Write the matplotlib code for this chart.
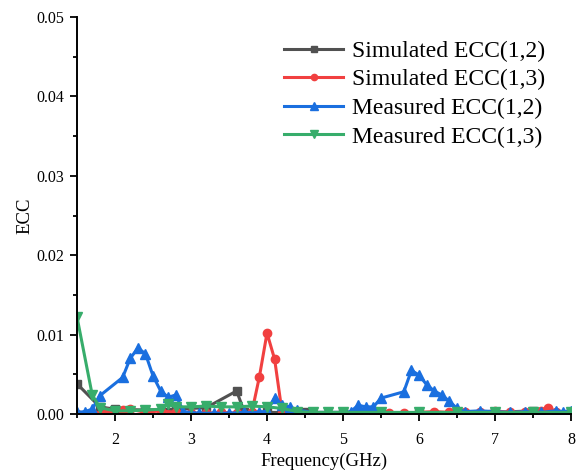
import numpy as np
import matplotlib.pyplot as plt
from matplotlib.ticker import MultipleLocator, FormatStrFormatter

# simulated ECC(1,2)
sim12_x = [1.5, 1.8, 2.0, 2.4, 2.8, 3.2, 3.6, 3.7, 4.0, 4.5, 5.0, 5.5, 6.0, 6.5, 7.0, 7.5, 8.0]
sim12_y = [0.0038, 0.0009, 0.0006, 0.0005, 0.0006, 0.0008, 0.0029, 0.0003, 0.0002, 0.0002,
           0.0002, 0.0001, 0.0001, 0.0002, 0.0002, 0.0004, 0.0002]

# simulated ECC(1,3)
sim13_x = [1.5, 1.7, 1.9, 2.1, 2.2, 2.4, 2.6, 2.8, 3.0, 3.2, 3.4, 3.6, 3.8, 3.9, 4.0, 4.1, 4.2,
           4.4, 4.6, 4.8, 5.0, 5.2, 5.4, 5.6, 5.8, 6.0, 6.2, 6.4, 6.6, 6.8, 7.0, 7.2, 7.4, 7.6,
           7.7, 7.8, 8.0]
sim13_y = [0.0000, 0.0001, 0.0003, 0.0005, 0.0006, 0.0002, 0.0004, 0.0002, 0.0001, 0.0001,
           0.0002, 0.0001, 0.0002, 0.0047, 0.0102, 0.0069, 0.0001, 0.0001, 0.0002, 0.0001,
           0.0001, 0.0001, 0.0002, 0.0001, 0.0001, 0.0002, 0.0003, 0.0002, 0.0003, 0.0002,
           0.0004, 0.0002, 0.0003, 0.0004, 0.0008, 0.0003, 0.0002]

# measured ECC(1,2)
mea12_x = [1.5, 1.6, 1.7, 1.8, 2.1, 2.2, 2.3, 2.4, 2.5, 2.6, 2.7, 2.8, 2.9, 3.1, 3.3, 3.5, 3.7,
           3.9, 4.0, 4.1, 4.2, 4.3, 4.4, 4.6, 4.8, 5.0, 5.1, 5.2, 5.3, 5.4, 5.5, 5.8, 5.9, 6.0,
           6.1, 6.2, 6.3, 6.4, 6.5, 6.6, 6.8, 7.0, 7.2, 7.4, 7.6, 7.8, 7.9, 8.0]
mea12_y = [0.0002, 0.0003, 0.0006, 0.0023, 0.0046, 0.0070, 0.0083, 0.0076, 0.0048, 0.0029,
           0.0021, 0.0024, 0.0003, 0.0001, 0.0001, 0.0001, 0.0002, 0.0002, 0.0004, 0.0020,
           0.0011, 0.0009, 0.0005, 0.0002, 0.0002, 0.0002, 0.0003, 0.0011, 0.0009, 0.0009,
           0.0020, 0.0028, 0.0055, 0.0049, 0.0037, 0.0029, 0.0024, 0.0016, 0.0007, 0.0003,
           0.0004, 0.0003, 0.0002, 0.0003, 0.0002, 0.0004, 0.0003, 0.0004]

# measured ECC(1,3)
mea13_x = [1.5, 1.7, 1.8, 2.0, 2.2, 2.4, 2.6, 2.7, 2.8, 3.0, 3.2, 3.4, 3.6, 3.8, 4.0, 4.2, 4.4,
           4.6, 4.8, 5.0, 5.5, 6.0, 6.5, 7.0, 7.5, 8.0]
mea13_y = [0.0122, 0.0024, 0.0008, 0.0004, 0.0004, 0.0005, 0.0006, 0.0012, 0.0009, 0.0009,
           0.0010, 0.0009, 0.0009, 0.0010, 0.0009, 0.0007, 0.0003, 0.0002, 0.0002, 0.0002,
           0.0002, 0.0002, 0.0002, 0.0002, 0.0002, 0.0002]

plt.rcParams['font.family'] = ['Liberation Serif', 'DejaVu Serif']

fig = plt.figure(figsize=(5.77, 4.74), dpi=100)
ax = fig.add_axes([0.1335, 0.1266, 0.8561, 0.8374])

ax.plot(sim12_x, sim12_y, color='#515151', lw=2.2, marker='s', ms=6, label='Simulated ECC(1,2)')
ax.plot(sim13_x, sim13_y, color='#F14040', lw=2.2, marker='o', ms=6, label='Simulated ECC(1,3)')
ax.plot(mea12_x, mea12_y, color='#1A6FDF', lw=2.2, marker='^', ms=7, label='Measured ECC(1,2)')
ax.plot(mea13_x, mea13_y, color='#37AD6B', lw=2.2, marker='v', ms=7, label='Measured ECC(1,3)')

ax.set_xlim(1.5, 8)
ax.set_ylim(0, 0.05)
ax.xaxis.set_major_locator(MultipleLocator(1))
ax.xaxis.set_minor_locator(MultipleLocator(0.5))
ax.yaxis.set_major_locator(MultipleLocator(0.01))
ax.yaxis.set_minor_locator(MultipleLocator(0.005))
ax.yaxis.set_major_formatter(FormatStrFormatter('%.2f'))

for s in ['top', 'right']:
    ax.spines[s].set_visible(False)
for s in ['left', 'bottom']:
    ax.spines[s].set_linewidth(1.4)

ax.tick_params(which='major', direction='out', length=5, width=1.3, labelsize=11.5)
ax.tick_params(which='minor', direction='out', length=3, width=1.3)
ax.tick_params(axis='x', which='major', pad=8)
ax.tick_params(axis='y', which='major', pad=4)

ax.set_xlabel('Frequency(GHz)', fontsize=13.5, labelpad=3)
ax.set_ylabel('ECC', fontsize=13.5, labelpad=2)

leg = ax.legend(loc='upper right', bbox_to_anchor=(0.99, 0.995), frameon=False, fontsize=17,
                handlelength=2.5, labelspacing=0.3, markerscale=0.75, handletextpad=0.35)

fig.savefig('out.png', dpi=100)
